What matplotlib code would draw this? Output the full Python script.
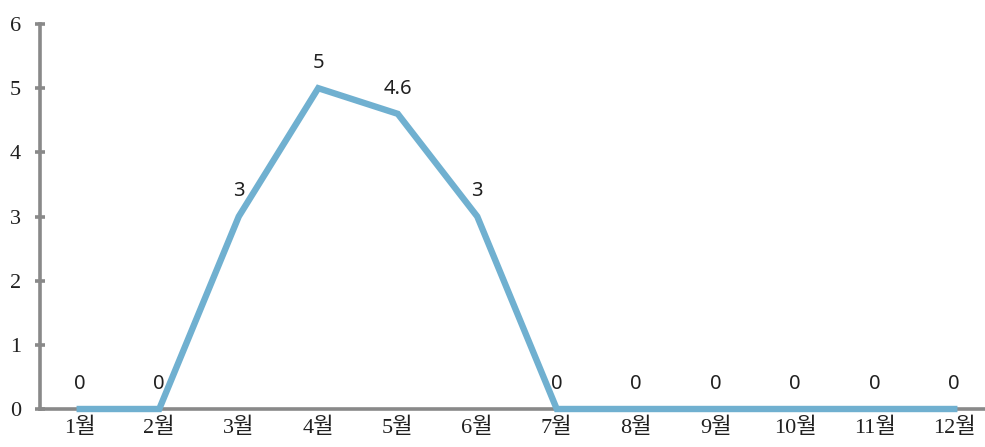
import matplotlib.pyplot as plt
import numpy as np

months = ['1월', '2월', '3월', '4월', '5월', '6월', '7월', '8월', '9월', '10월', '11월', '12월']
values = [0, 0, 3, 5, 4.6, 3, 0, 0, 0, 0, 0, 0]
labels = ['0', '0', '3', '5', '4.6', '3', '0', '0', '0', '0', '0', '0']

grey = '#898989'
blue = '#70b0d0'

fig = plt.figure(figsize=(9.85, 4.47), dpi=100)
ax = fig.add_axes([40 / 985, 38 / 447, 954 / 985, 385 / 447])

x = np.arange(len(months))
ax.plot(x, values, color=blue, linewidth=4.6, solid_joinstyle='miter', zorder=5, clip_on=False)

for xi, v, t in zip(x, values, labels):
    ax.annotate(t, (xi, v), xytext=(0, 18), textcoords='offset points',
                ha='center', va='center', fontsize=14.5, family=['Noto Sans', 'DejaVu Sans'],
                color='#202020')

ax.set_xlim(-0.5, 11.5)
ax.set_ylim(0, 6)
ax.set_xticks(x)
ax.set_xticklabels(months, family=['Liberation Serif', 'Noto Sans CJK KR'], fontsize=16)
ax.set_yticks(range(7))
ax.set_yticklabels([str(i) for i in range(7)], family=['Liberation Serif'], fontsize=16)

ax.spines[['top', 'right']].set_visible(False)
for s in ['left', 'bottom']:
    ax.spines[s].set_color(grey)
    ax.spines[s].set_linewidth(2.6)
ax.tick_params(axis='y', direction='inout', length=7, width=2.6, color=grey, pad=10, labelcolor='#202020')
ax.tick_params(axis='x', which='major', length=0, pad=6, labelcolor='#202020')

fig.savefig('out.png', dpi=100)
